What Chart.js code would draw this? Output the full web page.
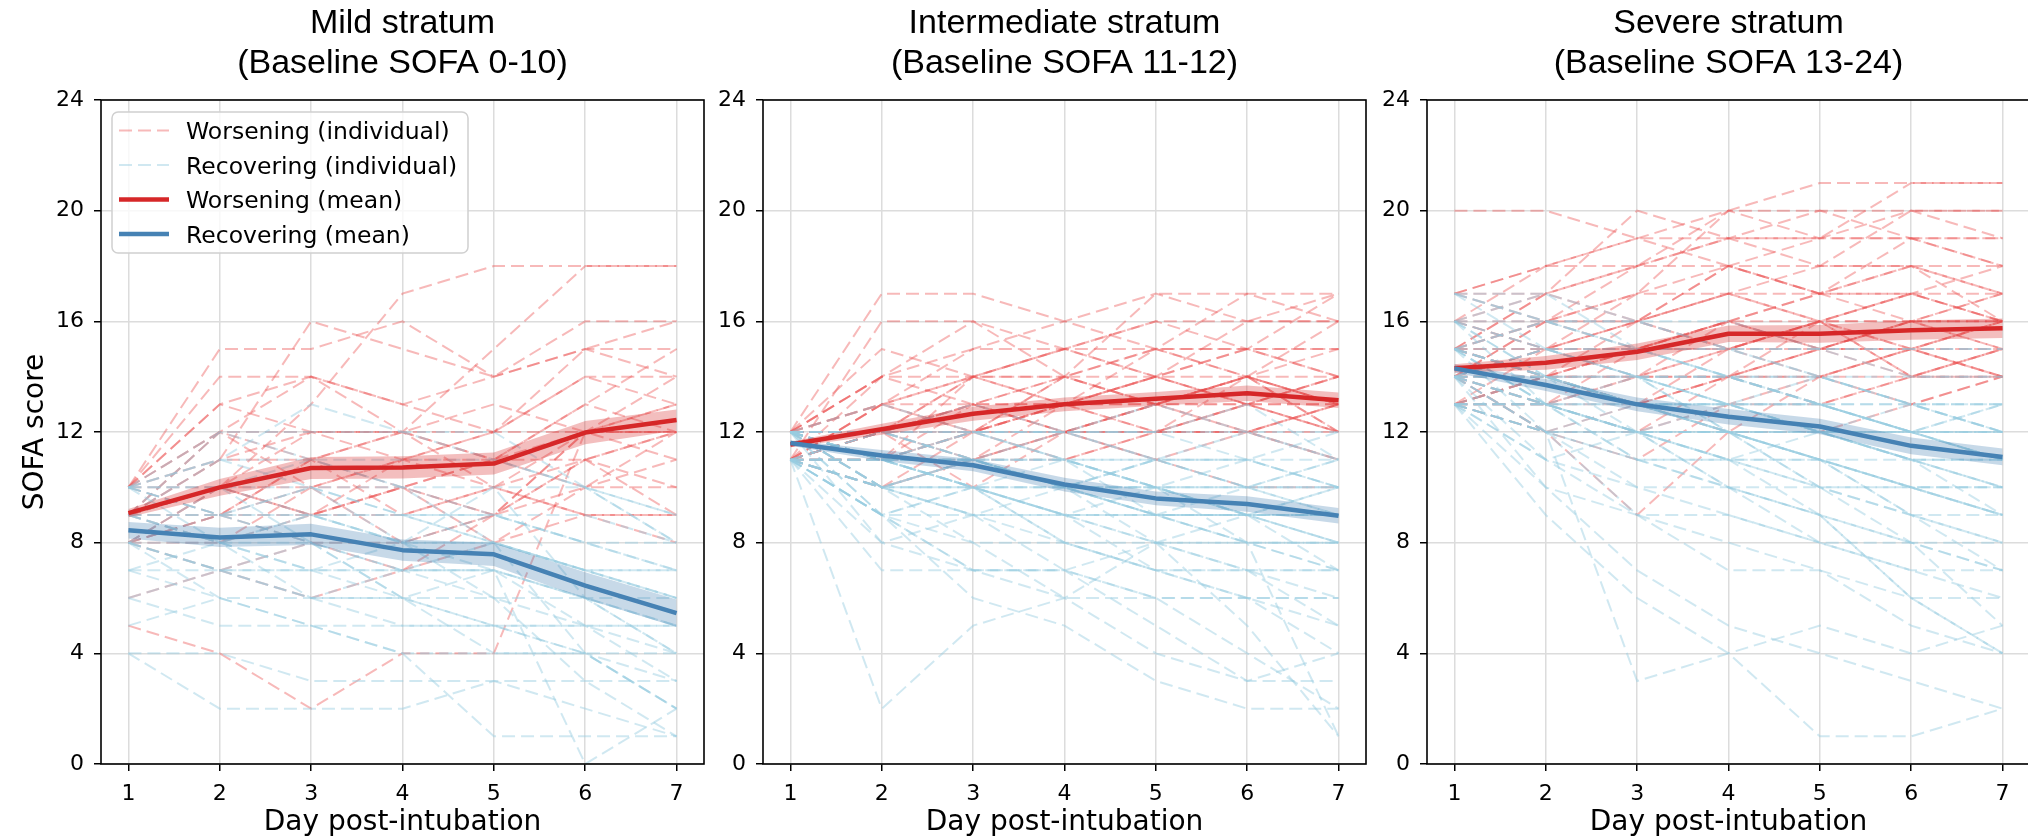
<!DOCTYPE html>
<html>
<head>
<meta charset="utf-8">
<script src="https://cdn.jsdelivr.net/npm/chart.js@4.4.1/dist/chart.umd.min.js"></script>
<style>
html, body { margin:0; padding:0; background:#fff; overflow:hidden; width:2028px; height:840px; }
canvas { position:absolute; top:0; }
</style>
</head>
<body>
<canvas id="c1" width="733" height="840" style="left:1px"></canvas>
<canvas id="c2" width="733" height="840" style="left:663px"></canvas>
<canvas id="c3" width="733" height="840" style="left:1327px"></canvas>
<script>
// days and y ticks
const days = [1, 2, 3, 4, 5, 6, 7];
const yTicks = [0, 4, 8, 12, 16, 20, 24];

const titles = [
  ['Mild stratum', '(Baseline SOFA 0-10)'],
  ['Intermediate stratum', '(Baseline SOFA 11-12)'],
  ['Severe stratum', '(Baseline SOFA 13-24)']
];
const legendLabels = ['Worsening (individual)', 'Recovering (individual)', 'Worsening (mean)', 'Recovering (mean)'];

// mild stratum
const mildWorseMean = [9.07, 10.0, 10.7, 10.72, 10.86, 11.98, 12.43];
const mildWorseCI   = [0.15, 0.3, 0.4, 0.4, 0.4, 0.42, 0.38];
const mildRecovMean = [8.45, 8.19, 8.3, 7.73, 7.58, 6.45, 5.45];
const mildRecovCI   = [0.3, 0.35, 0.38, 0.38, 0.42, 0.48, 0.5];
const mildWorseInd = [
  [10,15,15,16,14,15,15], [10,11,16,15,14,16,16], [9,10,13,17,18,18,18], [10,13,12,12,15,18,18],
  [9,12,14,13,14,15,14], [10,14,14,13,12,15,16], [9,11,12,12,12,12,13], [8,10,12,12,11,11,12],
  [9,9,11,12,10,12,13], [10,12,11,10,9,12,12], [8,9,9,10,11,12,12], [9,8,10,10,9,11,12],
  [8,9,10,8,9,12,14], [8,7,8,7,9,11,10], [9,10,10,11,11,10,10], [8,8,9,9,10,9,9],
  [10,10,9,10,11,13,12], [5,4,2,4,4,12,11], [9,10,9,10,8,10,11], [9,11,11,9,10,11,9],
  [8,9,8,8,9,10,12], [10,12,12,11,12,14,14], [8,10,9,11,10,9,8], [10,9,11,12,13,12,12],
  [6,7,6,7,8,9,9], [10,13,14,12,11,13,15], [9,12,10,11,12,14,13]
];
const mildRecovInd = [
  [10,11,11,11,11,10,8], [10,12,12,12,12,10,9], [9,11,13,12,11,10,8], [10,10,10,10,10,10,9],
  [9,9,9,9,9,9,8], [8,8,9,8,8,7,6], [9,8,8,7,7,6,5], [8,7,7,7,7,6,4],
  [10,9,8,8,7,5,3], [7,7,7,7,7,6,6], [8,6,6,6,6,6,5], [6,5,5,5,5,5,5],
  [9,10,8,7,8,7,7], [8,9,8,6,5,4,2], [4,4,3,3,3,3,3], [4,2,2,2,3,2,1],
  [7,6,5,4,1,1,1], [10,9,10,9,8,4,2], [9,8,9,8,10,6,4], [8,7,8,6,7,0,2],
  [10,11,10,9,9,8,7], [9,8,7,8,6,5,4], [7,8,7,6,5,5,5], [8,7,6,5,5,4,4],
  [10,10,9,9,8,7,6], [6,7,6,6,4,4,3], [9,9,10,8,8,7,7], [5,6,5,4,4,4,2],
  [10,9,9,8,9,8,8], [8,10,11,10,9,8,7], [9,12,11,10,8,7,6], [10,8,6,7,6,3,1]
];

// intermediate stratum
const interWorseMean = [11.55, 12.1, 12.66, 13.0, 13.2, 13.4, 13.15];
const interWorseCI   = [0.1, 0.2, 0.25, 0.25, 0.25, 0.28, 0.28];
const interRecovMean = [11.6, 11.15, 10.8, 10.1, 9.6, 9.4, 8.97];
const interRecovCI   = [0.1, 0.2, 0.22, 0.25, 0.25, 0.28, 0.28];
const interWorseInd = [
  [12,17,17,16,15,17,17], [11,16,16,15,16,16,16], [12,15,14,14,17,17,16], [11,14,16,14,15,15,15],
  [12,14,13,14,15,15,14], [11,13,14,15,14,14,14], [12,13,13,13,14,15,15], [11,12,14,14,13,14,13],
  [12,12,13,13,13,13,14], [11,12,12,13,14,13,13], [12,13,12,12,13,14,12], [11,11,12,13,12,13,13],
  [12,12,12,12,12,13,12], [11,12,13,12,13,12,12], [12,11,12,14,13,12,13], [11,11,11,12,12,14,12],
  [12,13,14,13,12,12,11], [11,10,12,13,14,13,12], [12,12,11,12,13,14,13], [11,11,13,12,11,12,13],
  [12,14,14,15,14,13,14], [11,12,11,11,12,13,12], [12,12,13,14,14,15,14], [11,10,11,12,12,12,11],
  [12,11,12,11,12,12,13], [11,13,12,13,13,14,15], [12,12,14,13,15,14,13], [11,12,12,14,13,13,14],
  [12,10,11,13,14,16,17], [11,11,14,15,16,15,17], [12,14,15,15,15,14,13], [11,13,15,16,17,16,16],
  [12,12,10,12,13,14,16], [11,12,13,12,11,10,10]
];
const interRecovInd = [
  [11,2,5,6,8,9,10], [12,12,11,11,11,11,11], [11,11,11,10,10,10,10], [12,11,10,10,10,9,9],
  [11,10,10,9,9,9,8], [12,11,11,10,9,8,8], [11,9,9,8,8,7,7], [12,10,9,9,7,7,6],
  [11,11,10,10,9,9,9], [12,12,12,11,10,10,10], [11,10,9,7,6,6,6], [12,11,11,11,10,9,8],
  [11,11,12,12,11,11,10], [12,10,11,10,11,10,9], [11,9,8,8,7,6,4], [12,11,10,9,8,5,1],
  [11,12,12,11,10,9,7], [12,11,12,11,11,12,11], [11,10,11,10,9,10,9], [12,9,10,9,10,9,10],
  [11,11,10,9,8,8,7], [12,12,11,10,10,11,10], [11,10,10,10,8,8,8], [12,11,11,10,11,10,11],
  [11,9,7,7,8,7,7], [12,12,13,12,11,11,10], [11,11,11,10,10,9,9], [12,10,10,9,9,9,8],
  [11,12,11,11,10,10,11], [12,11,10,8,7,6,5], [11,8,7,6,4,3,3], [12,13,12,12,12,12,11],
  [11,10,9,9,9,8,8], [12,11,11,10,9,9,9], [11,11,10,11,10,8,1], [12,12,11,10,11,10,10],
  [11,10,11,11,9,9,9], [12,11,12,12,12,11,12], [12,9,7,7,6,4,2], [11,7,7,7,5,3,4],
  [12,10,8,6,6,6,6], [11,9,10,8,7,7,5], [12,8,9,10,9,8,7], [11,12,12,12,13,12,12],
  [12,10,11,12,12,13,11], [11,9,6,5,3,2,2]
];

// severe stratum
const sevWorseMean = [14.3, 14.5, 14.9, 15.55, 15.55, 15.68, 15.75];
const sevWorseCI   = [0.15, 0.25, 0.3, 0.3, 0.32, 0.35, 0.35];
const sevRecovMean = [14.3, 13.7, 13.0, 12.55, 12.2, 11.5, 11.1];
const sevRecovCI   = [0.15, 0.22, 0.25, 0.28, 0.28, 0.3, 0.3];
const sevWorseInd = [
  [20,20,19,19,19,19,19], [17,18,19,20,21,21,21], [16,17,18,19,19,21,21], [15,17,20,19,18,20,20],
  [17,18,18,20,20,20,20], [16,16,17,20,19,19,18], [15,16,16,18,18,18,18], [14,15,17,17,18,18,17],
  [15,15,16,18,17,19,19], [14,15,15,16,16,16,17], [13,14,15,16,17,16,16], [14,14,14,15,16,17,16],
  [15,14,15,15,15,16,16], [13,14,14,16,15,15,16], [14,13,14,15,15,15,15], [13,13,15,15,16,14,15],
  [14,15,14,14,15,16,15], [13,14,13,15,14,15,14], [15,14,14,14,15,14,15], [14,14,15,16,15,15,14],
  [13,13,12,14,14,15,14], [14,12,11,13,14,14,15], [13,14,16,15,16,16,15], [15,15,15,16,15,16,17],
  [14,16,16,17,16,15,16], [13,12,13,14,15,16,16], [15,16,15,16,17,17,16], [14,14,13,14,13,14,14],
  [13,13,14,14,14,13,14], [16,15,15,15,16,17,16], [14,13,13,12,14,15,15], [14,12,9,12,12,13,14],
  [17,16,17,18,19,20,19], [16,18,19,18,17,18,17], [15,17,18,18,17,17,18], [14,16,18,19,20,19,18],
  [13,15,16,17,17,18,16], [16,15,16,17,16,17,17], [15,14,13,14,16,15,16], [13,12,12,13,13,14,14],
  [17,17,16,15,16,14,14]
];
const sevRecovInd = [
  [14,12,3,4,5,4,5], [13,9,6,4,1,1,2], [15,14,13,12,11,10,9], [14,14,13,13,12,12,11],
  [13,13,12,12,12,11,11], [16,15,14,14,13,13,12], [14,13,13,12,12,11,10], [15,15,14,13,13,12,12],
  [13,12,12,11,11,10,10], [14,14,14,13,13,12,11], [17,16,15,14,14,13,13], [13,13,12,12,11,11,9],
  [15,14,13,13,12,11,11], [14,13,12,12,10,9,8], [13,12,11,10,10,8,7], [16,16,15,15,14,14,14],
  [14,15,14,14,14,13,13], [13,14,13,13,12,12,12], [15,13,12,11,11,10,10], [14,12,11,11,10,9,7],
  [13,13,13,12,12,12,11], [15,16,16,15,15,14,14], [14,14,13,12,12,13,12], [13,12,13,12,11,10,9],
  [16,15,15,14,13,12,11], [14,13,12,11,9,8,5], [15,14,14,13,14,13,13], [13,13,12,13,12,11,11],
  [14,15,15,14,13,12,13], [17,17,16,16,15,15,15], [13,11,10,10,9,6,4], [14,14,13,13,13,12,12],
  [15,13,13,12,12,12,11], [13,12,12,12,11,10,10], [14,13,14,13,12,11,10], [16,14,13,13,13,12,12],
  [13,12,10,9,8,8,7], [15,14,12,12,11,9,9], [14,15,14,14,13,13,12], [13,13,12,11,12,11,10],
  [17,15,14,12,11,9,8], [16,13,11,10,8,7,6], [15,12,9,8,7,6,6], [14,11,9,7,7,5,4],
  [13,10,9,9,8,7,7], [16,17,15,14,13,12,13], [15,16,15,15,15,15,15], [14,10,7,5,4,3,2],
  [13,11,12,10,9,8,8], [16,14,14,12,10,10,9], [17,16,16,15,14,13,12], [15,13,11,11,10,10,9],
  [14,12,12,10,9,6,4]
];

const RED = '#d62728';
const BLUE = '#4682b4';
const RED_IND = 'rgba(235,80,80,0.4)';
const BLUE_IND = 'rgba(150,205,225,0.45)';
const RED_BAND = 'rgba(214,39,40,0.3)';
const BLUE_BAND = 'rgba(70,130,180,0.3)';
const DASH = [13, 6];

Chart.defaults.font.family = 'DejaVu Sans';
Chart.defaults.color = '#000';

function pts(vals) {
  return vals.map((v, i) => ({ x: days[i], y: v }));
}

// titles, axis labels, frame and the legend of the first panel
const decor = {
  id: 'decor',
  afterDraw(chart, args, o) {
    const ctx = chart.ctx;
    const a = chart.chartArea;
    const cx = (a.left + a.right) / 2;
    ctx.save();
    ctx.fillStyle = '#000';
    ctx.textAlign = 'center';
    ctx.textBaseline = 'alphabetic';
    ctx.font = '34px "Liberation Sans"';
    ctx.fillText(o.title[0], cx, 33);
    ctx.fillText(o.title[1], cx, 73);
    ctx.font = '28px "DejaVu Sans"';
    ctx.fillText('Day post-intubation', cx, 830);
    if (o.yLabel) {
      ctx.save();
      ctx.translate(42, (a.top + a.bottom) / 2);
      ctx.rotate(-Math.PI / 2);
      ctx.fillText('SOFA score', 0, 0);
      ctx.restore();
    }
    ctx.strokeStyle = '#000';
    ctx.lineWidth = 1.6;
    ctx.strokeRect(a.left, a.top, a.right - a.left, a.bottom - a.top);

    if (o.legend) {
      const bx = 111, by = 112, bw = 356, bh = 141, r = 6;
      ctx.beginPath();
      ctx.moveTo(bx + r, by);
      ctx.arcTo(bx + bw, by, bx + bw, by + bh, r);
      ctx.arcTo(bx + bw, by + bh, bx, by + bh, r);
      ctx.arcTo(bx, by + bh, bx, by, r);
      ctx.arcTo(bx, by, bx + bw, by, r);
      ctx.closePath();
      ctx.fillStyle = 'rgba(255,255,255,0.8)';
      ctx.fill();
      ctx.strokeStyle = '#d0d0d0';
      ctx.lineWidth = 1.5;
      ctx.stroke();
      const styles = [
        { c: RED_IND, w: 2, d: DASH },
        { c: BLUE_IND, w: 2, d: DASH },
        { c: RED, w: 4.5, d: [] },
        { c: BLUE, w: 4.5, d: [] }
      ];
      ctx.font = '23.5px "DejaVu Sans"';
      ctx.textAlign = 'left';
      ctx.fillStyle = '#000';
      legendLabels.forEach((lab, i) => {
        const yc = 130.5 + i * 34.5;
        ctx.beginPath();
        ctx.setLineDash(styles[i].d);
        ctx.strokeStyle = styles[i].c;
        ctx.lineWidth = styles[i].w;
        ctx.moveTo(118, yc);
        ctx.lineTo(168, yc);
        ctx.stroke();
        ctx.setLineDash([]);
        ctx.fillText(lab, 185, yc + 8.5);
      });
    }
    ctx.restore();
  }
};

function makePanel(id, title, worseInd, recovInd, wMean, wCI, rMean, rCI, withLegend, withYLabel) {
  const ds = [];
  worseInd.forEach(v => ds.push({
    data: pts(v), borderColor: RED_IND, borderWidth: 2, borderDash: DASH, order: 20
  }));
  recovInd.forEach(v => ds.push({
    data: pts(v), borderColor: BLUE_IND, borderWidth: 2, borderDash: DASH, order: 15
  }));
  const band = (mean, ci, col) => {
    ds.push({ data: pts(mean.map((m, i) => m - ci[i])), borderWidth: 0, borderColor: 'rgba(0,0,0,0)', fill: false, order: 10 });
    ds.push({ data: pts(mean.map((m, i) => m + ci[i])), borderWidth: 0, borderColor: 'rgba(0,0,0,0)', backgroundColor: col, fill: '-1', order: 10 });
  };
  band(wMean, wCI, RED_BAND);
  band(rMean, rCI, BLUE_BAND);
  ds.push({ data: pts(wMean), borderColor: RED, borderWidth: 4.5, order: 1, borderJoinStyle: 'round' });
  ds.push({ data: pts(rMean), borderColor: BLUE, borderWidth: 4.5, order: 0, borderJoinStyle: 'round' });

  return new Chart(document.getElementById(id), {
    type: 'line',
    data: { datasets: ds },
    options: {
      responsive: false,
      animation: false,
      events: [],
      layout: { padding: { top: 100, right: 30, left: 0, bottom: 0 } },
      elements: { point: { radius: 0 }, line: { tension: 0, fill: false } },
      plugins: {
        legend: { display: false },
        tooltip: { enabled: false },
        decor: { title: title, legend: withLegend, yLabel: withYLabel }
      },
      scales: {
        x: {
          type: 'linear', min: 0.7, max: 7.3,
          afterBuildTicks: s => { s.ticks = days.map(v => ({ value: v })); },
          afterFit: s => { s.height = 76; },
          grid: { color: '#dcdcdc', lineWidth: 1.5, tickColor: '#000', tickLength: 7, tickWidth: 1.5 },
          border: { display: false },
          ticks: { font: { size: 22 }, padding: 10, maxRotation: 0, autoSkip: false }
        },
        y: {
          type: 'linear', min: 0, max: 24,
          afterBuildTicks: s => { s.ticks = yTicks.map(v => ({ value: v })); },
          afterFit: s => { s.width = 100; },
          grid: { color: '#dcdcdc', lineWidth: 1.5, tickColor: '#000', tickLength: 7, tickWidth: 1.5 },
          border: { display: false },
          ticks: { font: { size: 22 }, padding: 10 }
        }
      }
    },
    plugins: [decor]
  });
}

makePanel('c1', titles[0], mildWorseInd, mildRecovInd, mildWorseMean, mildWorseCI, mildRecovMean, mildRecovCI, true, true);
makePanel('c2', titles[1], interWorseInd, interRecovInd, interWorseMean, interWorseCI, interRecovMean, interRecovCI, false, false);
makePanel('c3', titles[2], sevWorseInd, sevRecovInd, sevWorseMean, sevWorseCI, sevRecovMean, sevRecovCI, false, false);
</script>
</body>
</html>
